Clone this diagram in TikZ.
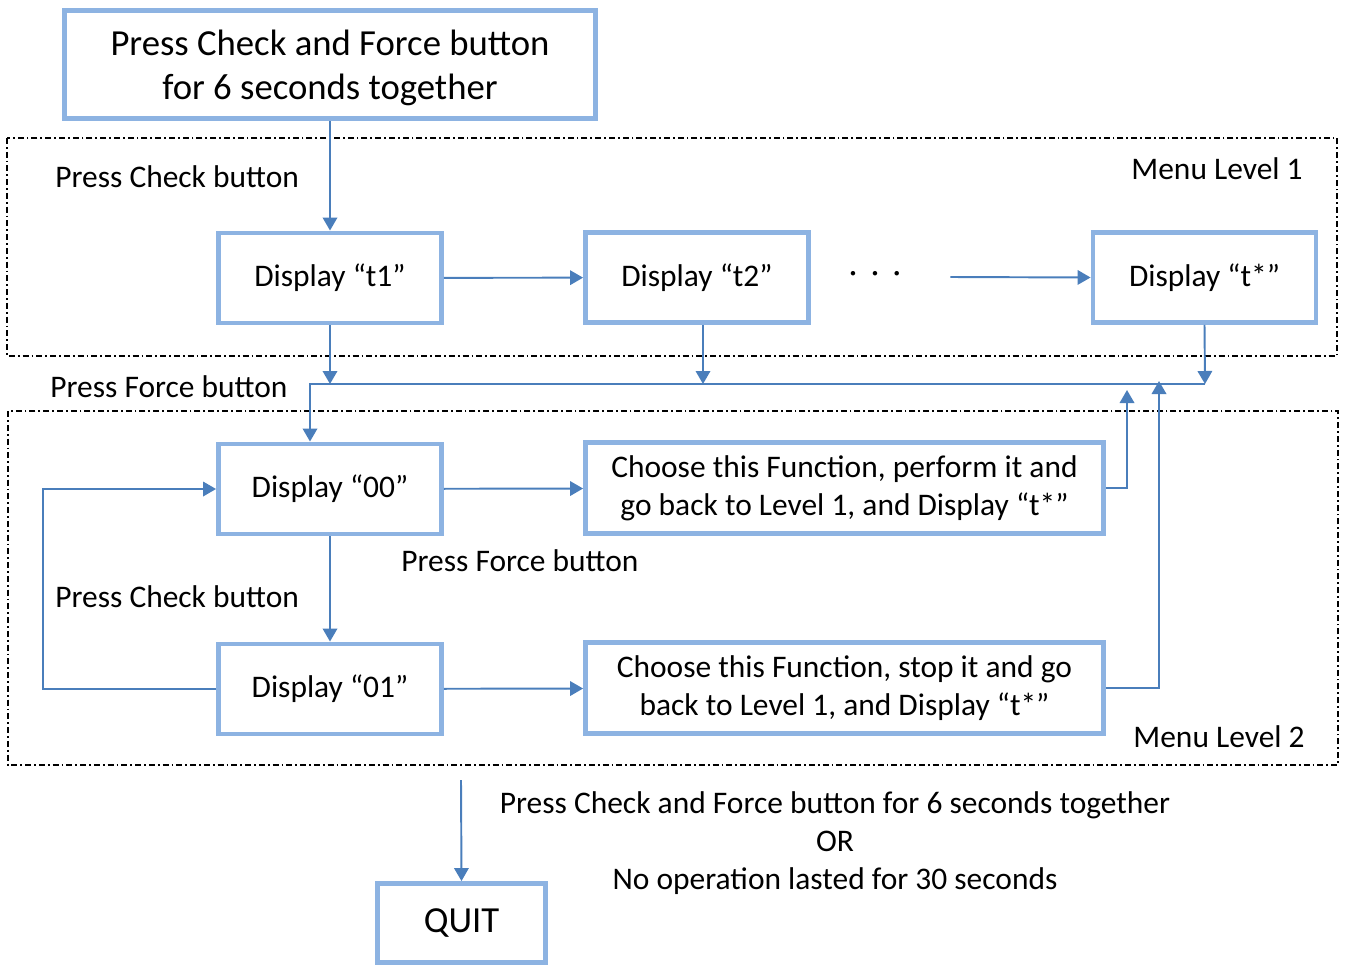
\documentclass[tikz,border=0pt]{standalone}
\usepackage{fontspec}
\setmainfont{Carlito}
\usetikzlibrary{arrows.meta}
\definecolor{boxblue}{HTML}{8DB3E2}
\definecolor{linkblue}{HTML}{4A7EBB}
\newcommand{\bodyfont}{\fontsize{17.9}{21.6}\selectfont}
\newcommand{\bigfont}{\fontsize{20.9}{25}\selectfont}
\tikzset{
  dispbox/.style={draw=boxblue,line width=2.8pt,fill=white,align=center,inner sep=0pt,minimum width=4.46cm,minimum height=1.8cm,font=\bodyfont},
  funcbox/.style={dispbox,minimum width=10.36cm,minimum height=1.82cm},
  bigbox/.style={dispbox,font=\bigfont},
  frame/.style={draw=black,line width=0.8pt,dash pattern=on 1.2mm off 0.6mm on 0.35mm off 0.6mm},
  flow/.style={-{Triangle[length=2.6mm,width=2.9mm]},draw=linkblue,line width=1.1pt},
  lbl/.style={font=\bodyfont,inner sep=0pt,align=center}}

\begin{document}
\begin{tikzpicture}[x=0.02cm,y=-0.02cm]
  \useasboundingbox (0,0) rectangle (1345,967);
  % menu level frames
  \draw[frame] (7,138) rectangle (1337,356);
  \draw[frame] (8,411) rectangle (1338,765);
  \node[lbl,anchor=east] (lvl1) at (1303,169) {Menu Level 1};
  \node[lbl,anchor=east] (lvl2) at (1305,737) {Menu Level 2};

  \node[bigbox,minimum width=10.62cm,minimum height=2.16cm,text depth=0pt] (start) at (330,64.5) {Press Check and Force button\\for 6 seconds together};
  \node[dispbox] (t1) at (330,278) {Display “t1”};
  \node[dispbox] (t2) at (697,277.5) {Display “t2”};
  \node[dispbox] (tstar) at (1204.5,277.5) {Display “t*”};
  \node[lbl,minimum width=3cm] (dots) at (875,277) {·\hspace{0.28cm}·\hspace{0.28cm}·};

  \node[dispbox] (d00) at (330,489) {Display “00”};
  \node[dispbox] (d01) at (330,689) {Display “01”};
  \node[funcbox] (fn1) at (844.5,488) {Choose this Function, perform it and\\go back to Level 1, and Display “t*”};
  \node[funcbox] (fn2) at (844.5,688) {Choose this Function, stop it and go\\back to Level 1, and Display “t*”};
  \node[bigbox,minimum width=3.36cm,minimum height=1.58cm] (quit) at (461.5,923) {QUIT};

  \node[lbl,anchor=west] (chk1) at (55,177) {Press Check button};
  \node[lbl,anchor=west] (frc1) at (50,387) {Press Force button};
  \node[lbl,anchor=west] (frc2) at (401,561) {Press Force button};
  \node[lbl,anchor=west] (chk2) at (55,597) {Press Check button};
  \node[lbl,font=\fontsize{17.9}{21.8}\selectfont] (exit) at (835,843) {Press Check and Force button for 6 seconds together\\OR\\No operation lasted for 30 seconds};

  \coordinate (busL) at (310,384);
  \coordinate (busR) at (1205,384);
  \coordinate (in1) at (1127,390);
  \coordinate (in2) at (1159,381);
  \coordinate (qin) at (461,780);

  \draw[flow] (start) -- (t1);
  \draw[flow] (t1) -- (t2);
  \draw[flow] (dots.east) -- (tstar.west);
  \draw[flow] (t1.south) -- (t1.south |- busL);
  \draw[flow] ([xshift=0.12cm]t2.south) -- ([xshift=0.12cm]t2.south |- busL);
  \draw[flow] (tstar.south) -- (busR);
  \draw[flow] (busR) -- (busL) -- (d00.north -| busL);
  \draw[flow] (d00) -- (fn1);
  \draw[flow] (d00) -- (d01);
  \draw[flow] (d01) -- (fn2);
  \draw[flow] (d01.west) -- ++(-173,0) |- (d00.west);
  \draw[flow] (fn1.east) -| (in1);
  \draw[flow] (fn2.east) -| (in2);
  \draw[flow] (qin) -- (quit.north);
\end{tikzpicture}
\end{document}
